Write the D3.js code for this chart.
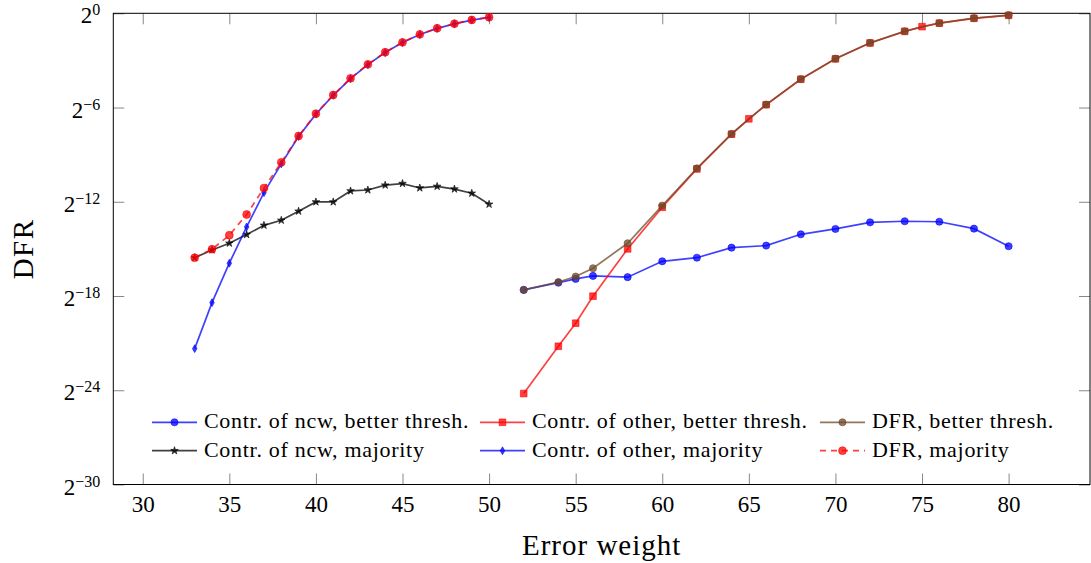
<!DOCTYPE html>
<html>
<head>
<meta charset="utf-8">
<script src="https://cdn.jsdelivr.net/npm/d3@7"></script>
<style>
body { margin: 0; background: white; }
svg text { font-family: "Liberation Serif", "DejaVu Serif", serif !important; fill: black; }
</style>
</head>
<body>
<script>
// error weights
var wMajority = [33, 34, 35, 36, 37, 38, 39, 40, 41, 42, 43, 44, 45, 46, 47, 48, 49, 50]
var wNcwBetter = [52, 54, 55, 56, 58, 60, 62, 64, 66, 68, 70, 72, 74, 76, 78, 80]
var wOtherBetter = [52, 54, 55, 56, 58, 60, 62, 64, 65, 66, 68, 70, 72, 74, 75, 76, 78, 80]
var wDfrBetter = [52, 54, 55, 56, 58, 60, 62, 64, 66, 68, 70, 72, 74, 76, 78, 80]

// log2 of the values
var ncwBetter = [-17.61, -17.15, -16.91, -16.72, -16.8, -15.79, -15.56, -14.92, -14.79, -14.07, -13.73, -13.31, -13.24, -13.27, -13.71, -14.83]
var otherBetter = [-24.21, -21.2, -19.73, -18.01, -15.0, -12.35, -9.91, -7.7, -6.72, -5.82, -4.2, -2.9, -1.89, -1.15, -0.85, -0.63, -0.32, -0.13]
var dfrBetter = [-17.61, -17.11, -16.76, -16.23, -14.64, -12.24, -9.87, -7.68, -5.81, -4.19, -2.89, -1.88, -1.14, -0.62, -0.31, -0.12]
var ncwMajority = [-15.56, -15.07, -14.64, -14.09, -13.5, -13.18, -12.6, -12.01, -12.01, -11.31, -11.25, -10.94, -10.84, -11.12, -11.02, -11.19, -11.46, -12.16]
var otherMajority = [-21.35, -18.42, -15.91, -13.6, -11.42, -9.59, -7.84, -6.42, -5.22, -4.16, -3.27, -2.5, -1.86, -1.35, -0.96, -0.67, -0.43, -0.26]
var dfrMajority = [-15.56, -15.02, -14.13, -12.81, -11.13, -9.49, -7.81, -6.39, -5.2, -4.14, -3.25, -2.48, -1.85, -1.34, -0.95, -0.66, -0.42, -0.25]

var labels = ["Contr. of ncw, better thresh.", "Contr. of other, better thresh.", "DFR, better thresh.",
              "Contr. of ncw, majority", "Contr. of other, majority", "DFR, majority"]
var xTicks = [30, 35, 40, 45, 50, 55, 60, 65, 70, 75, 80]
var yTicks = [-30, -24, -18, -12, -6, 0]

var width = 1091
var height = 563
var serif = "'Liberation Serif', 'DejaVu Serif', serif"

var x = d3.scaleLinear()
.domain([28.3, 84.7])
.range([113.3, 1090]);

var y = d3.scaleLinear()
.domain([-30, 0])
.range([484.5, 13.3]);

var svg = d3.select("body").append("svg")
.attr("width", width)
.attr("height", height)
.attr("font-family", serif)

var tickColor = "#888"

// bottom axis
var gx = svg.append("g")
.attr("transform", "translate(0," + y(-30) + ")")
.call(d3.axisBottom(x).tickValues(xTicks).tickSizeInner(-11).tickSizeOuter(0).tickPadding(11))
gx.attr("font-family", serif)
gx.select(".domain").remove()
gx.selectAll("line").attr("stroke", tickColor)
gx.selectAll("text").style("font-family", serif).style("font-size", "23px").attr("fill", "black")

// top axis (mirror)
var gxt = svg.append("g")
.attr("transform", "translate(0," + y(0) + ")")
.call(d3.axisTop(x).tickValues(xTicks).tickSizeInner(-11).tickSizeOuter(0).tickFormat(""))
gxt.select(".domain").remove()
gxt.selectAll("line").attr("stroke", tickColor)

// left axis
var gy = svg.append("g")
.attr("transform", "translate(" + x(28.3) + ",0)")
.call(d3.axisLeft(y).tickValues(yTicks).tickSizeInner(-11).tickSizeOuter(0).tickPadding(13))
gy.attr("font-family", serif)
gy.select(".domain").remove()
gy.selectAll("line").attr("stroke", tickColor)
gy.selectAll("text").each(function(d) {
    var t = d3.select(this)
    t.text("").attr("dy", "0.42em").style("font-family", serif).style("font-size", "23px").attr("fill", "black")
    t.append("tspan").text("2")
    t.append("tspan").attr("dy", -8).style("font-size", "16px")
    .text(d == 0 ? "0" : "\u2212" + Math.abs(d))
})

// right axis (mirror)
var gyr = svg.append("g")
.attr("transform", "translate(" + x(84.7) + ",0)")
.call(d3.axisRight(y).tickValues(yTicks).tickSizeInner(-11).tickSizeOuter(0).tickFormat(""))
gyr.select(".domain").remove()
gyr.selectAll("line").attr("stroke", tickColor)

// frame
svg.append("rect")
.attr("x", x(28.3))
.attr("y", y(0))
.attr("width", x(84.7) - x(28.3))
.attr("height", y(-30) - y(0))
.attr("fill", "none")
.attr("stroke", "black")
.attr("stroke-width", 1)

svg.append("text")
.attr("x", (x(28.3) + x(84.7)) / 2)
.attr("y", 555)
.style("text-anchor", "middle")
.style("font-family", serif)
.style("font-size", "29px")
.style("letter-spacing", "1px")
.text("Error weight");

svg.append("text")
.attr("transform", "translate(33," + ((y(0) + y(-30)) / 2) + ") rotate(-90)")
.style("text-anchor", "middle")
.style("font-family", serif)
.style("font-size", "29px")
.style("letter-spacing", "1.5px")
.text("DFR");

var series = [
    { xs: wNcwBetter, ys: ncwBetter, color: "#0000ff", symbol: d3.symbolCircle, size: 40, dash: null },
    { xs: wOtherBetter, ys: otherBetter, color: "#ff0000", symbol: d3.symbolSquare, size: 44, dash: null },
    { xs: wDfrBetter, ys: dfrBetter, color: "#6e4a28", symbol: d3.symbolCircle, size: 40, dash: null },
    { xs: wMajority, ys: ncwMajority, color: "#000000", symbol: d3.symbolStar, size: 18, dash: null },
    { xs: wMajority, ys: otherMajority, color: "#0000ff", symbol: d3.symbolDiamond, size: 18, dash: null },
    { xs: wMajority, ys: dfrMajority, color: "#ff0000", symbol: d3.symbolCircle, size: 48, dash: "6,5" }
]

var opacity = 0.75

var line = d3.line()
.x(function(d) { return x(d[0]) })
.y(function(d) { return y(d[1]) })

function plot_series(s) {
    var pts = s.xs.map(function(w, i) { return [w, s.ys[i]] })
    var g = svg.append("g")
    g.append("path")
    .datum(pts)
    .attr("d", line)
    .attr("fill", "none")
    .attr("stroke", s.color)
    .attr("stroke-opacity", opacity)
    .attr("stroke-width", 1.7)
    .style("stroke-dasharray", s.dash)
    g.selectAll()
    .data(pts)
    .enter().append("path")
    .attr("transform", function(d) { return "translate(" + x(d[0]) + "," + y(d[1]) + ")" })
    .attr("d", d3.symbol().type(s.symbol).size(s.size))
    .attr("fill", s.color)
    .attr("fill-opacity", opacity)
    .attr("stroke", s.color)
    .attr("stroke-opacity", opacity)
    .attr("stroke-width", 0.8)
}

series.forEach(plot_series)

// legend, 3 columns
var legendX = [152, 480, 820]
var legendY = [422.3, 450.7]
var legend = svg.append("g")
series.forEach(function(s, i) {
    var lx = legendX[i % 3]
    var ly = legendY[Math.floor(i / 3)]
    legend.append("line")
    .attr("x1", lx).attr("x2", lx + 45)
    .attr("y1", ly).attr("y2", ly)
    .attr("stroke", s.color)
    .attr("stroke-opacity", opacity)
    .attr("stroke-width", 1.7)
    .style("stroke-dasharray", s.dash)
    legend.append("path")
    .attr("transform", "translate(" + (lx + 22.5) + "," + ly + ")")
    .attr("d", d3.symbol().type(s.symbol).size(s.size))
    .attr("fill", s.color)
    .attr("fill-opacity", opacity)
    .attr("stroke", s.color)
    .attr("stroke-opacity", opacity)
    .attr("stroke-width", 0.8)
    legend.append("text")
    .attr("x", lx + 52)
    .attr("y", ly + 6)
    .style("font-family", serif)
    .style("font-size", "22px")
    .style("letter-spacing", "0.7px")
    .text(labels[i])
})
</script>
</body>
</html>
